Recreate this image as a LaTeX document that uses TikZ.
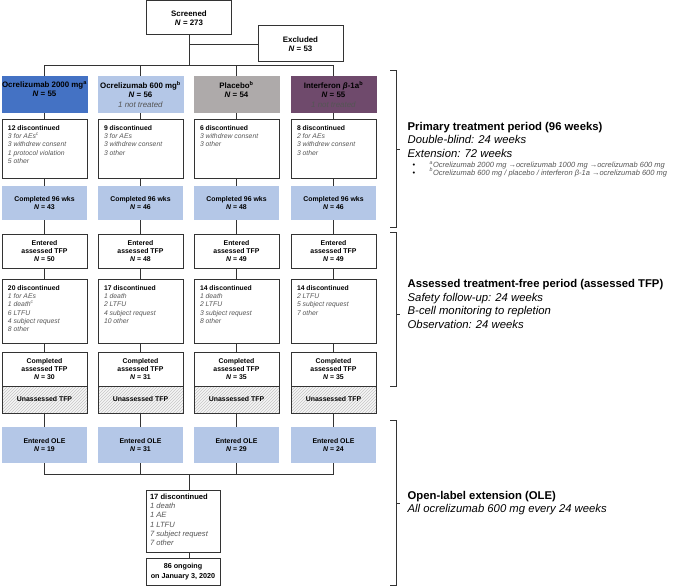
\documentclass[tikz,border=0pt]{standalone}
\usepackage{fontspec}
\setmainfont{Liberation Sans}
\usetikzlibrary{patterns}

\definecolor{armblue}{HTML}{4472C4}
\definecolor{paleblue}{HTML}{B4C7E7}
\definecolor{armgray}{HTML}{AEAAAA}
\definecolor{armpurple}{HTML}{6F4A6C}
\definecolor{linegray}{HTML}{333333}
\definecolor{notegray}{HTML}{555555}

\newcommand{\nn}{\textit{N}}
\newcommand{\itnote}[1]{{\color{notegray}\textit{#1}}}
\newcommand{\boxfont}{\fontsize{6.9}{7.6}\selectfont}
\newcommand{\listfont}{\fontsize{6.8}{8.2}\selectfont}
\newcommand{\bulletfont}{\fontsize{7.5}{7.8}\selectfont\lineskiplimit=-5pt\relax}
\newcommand{\toptext}[2]{\parbox[c][#1][t]{73pt}{\raggedright #2}}
\newcommand{\armtext}[1]{\parbox[c][26pt][t]{86pt}{\centering\fontsize{7.9}{9.5}\selectfont #1}}

\begin{document}
\begin{tikzpicture}[x=1pt, y=-1pt,
    whitebox/.style={draw=linegray, line width=1pt, fill=white, minimum width=85, minimum height=34, inner sep=0pt, align=center, font=\boxfont},
    bluebox/.style={fill=paleblue, minimum width=85, minimum height=34, inner sep=0pt, align=center, font=\boxfont},
    armbox/.style={minimum width=86, minimum height=37, inner sep=0pt},
    listbox/.style={whitebox, inner xsep=6pt, inner ysep=6.5pt, font=\listfont},
    hatchbox/.style={whitebox, minimum height=27, preaction={fill=gray!8}, pattern=north east lines, pattern color=gray!45},
    link/.style={draw=linegray, line width=0.9pt},
    period/.style={anchor=base west, align=left, inner sep=0pt, font=\fontsize{11.3}{13.4}\selectfont}]
    \useasboundingbox (0,0) rectangle (675,586);

    % screening
    \node at (189, 18) [whitebox, font=\fontsize{7.9}{9.6}\selectfont] (screen) {\textbf{Screened}\\ \textbf{\nn{} = 273}};
    \node at (300.5, 44) [whitebox, minimum height=36, font=\fontsize{7.9}{9.6}\selectfont] (excl) {\textbf{Excluded}\\ \textbf{\nn{} = 53}};
    \coordinate (split) at (189, 65);
    \coordinate (merge) at (189, 474);

    % treatment arms
    \node at (44.5, 94.5) [armbox, fill=armblue] (arm1) {\armtext{\textbf{Ocrelizumab 2000 mg\textsuperscript{a}}\\ \textbf{\nn{} = 55}}};
    \node at (140.5, 94.5) [armbox, fill=paleblue] (arm2) {\armtext{\textbf{Ocrelizumab 600 mg\textsuperscript{b}}\\ \textbf{\nn{} = 56}\\ \itnote{1 not treated}}};
    \node at (236.5, 94.5) [armbox, fill=armgray] (arm3) {\armtext{\textbf{Placebo\textsuperscript{b}}\\ \textbf{\nn{} = 54}}};
    \node at (333.5, 94.5) [armbox, fill=armpurple] (arm4) {\armtext{\textbf{Interferon \textit{β}-1a\textsuperscript{b}}\\ \textbf{\nn{} = 55}\\ \itnote{1 not treated}}};

    % primary treatment period
    \node at (44.5, 148.5) [listbox, minimum height=59] (disc1) {\toptext{46pt}{\textbf{12 discontinued}\\ \itnote{3 for AEs\textsuperscript{c}}\\ \itnote{3 withdrew consent}\\ \itnote{1 protocol violation}\\ \itnote{5 other}}};
    \node at (140.5, 148.5) [listbox, minimum height=59] (disc2) {\toptext{46pt}{\textbf{9 discontinued}\\ \itnote{3 for AEs}\\ \itnote{3 withdrew consent}\\ \itnote{3 other}}};
    \node at (236.5, 148.5) [listbox, minimum height=59] (disc3) {\toptext{46pt}{\textbf{6 discontinued}\\ \itnote{3 withdrew consent}\\ \itnote{3 other}}};
    \node at (333.5, 148.5) [listbox, minimum height=59] (disc4) {\toptext{46pt}{\textbf{8 discontinued}\\ \itnote{2 for AEs}\\ \itnote{3 withdrew consent}\\ \itnote{3 other}}};

    \node at (44.5, 203) [bluebox] (comp1) {\textbf{Completed 96 wks}\\ \textbf{\nn{} = 43}};
    \node at (140.5, 203) [bluebox] (comp2) {\textbf{Completed 96 wks}\\ \textbf{\nn{} = 46}};
    \node at (236.5, 203) [bluebox] (comp3) {\textbf{Completed 96 wks}\\ \textbf{\nn{} = 48}};
    \node at (333.5, 203) [bluebox] (comp4) {\textbf{Completed 96 wks}\\ \textbf{\nn{} = 46}};

    % assessed treatment-free period
    \node at (44.5, 251) [whitebox] (tfp1) {\textbf{Entered}\\ \textbf{assessed TFP}\\ \textbf{\nn{} = 50}};
    \node at (140.5, 251) [whitebox] (tfp2) {\textbf{Entered}\\ \textbf{assessed TFP}\\ \textbf{\nn{} = 48}};
    \node at (236.5, 251) [whitebox] (tfp3) {\textbf{Entered}\\ \textbf{assessed TFP}\\ \textbf{\nn{} = 49}};
    \node at (333.5, 251) [whitebox] (tfp4) {\textbf{Entered}\\ \textbf{assessed TFP}\\ \textbf{\nn{} = 49}};

    \node at (44.5, 311) [listbox, minimum height=64] (tdisc1) {\toptext{51pt}{\textbf{20 discontinued}\\ \itnote{1 for AEs}\\ \itnote{1 death\textsuperscript{c}}\\ \itnote{6 LTFU}\\ \itnote{4 subject request}\\ \itnote{8 other}}};
    \node at (140.5, 311) [listbox, minimum height=64] (tdisc2) {\toptext{51pt}{\textbf{17 discontinued}\\ \itnote{1 death}\\ \itnote{2 LTFU}\\ \itnote{4 subject request}\\ \itnote{10 other}}};
    \node at (236.5, 311) [listbox, minimum height=64] (tdisc3) {\toptext{51pt}{\textbf{14 discontinued}\\ \itnote{1 death}\\ \itnote{2 LTFU}\\ \itnote{3 subject request}\\ \itnote{8 other}}};
    \node at (333.5, 311) [listbox, minimum height=64] (tdisc4) {\toptext{51pt}{\textbf{14 discontinued}\\ \itnote{2 LTFU}\\ \itnote{5 subject request}\\ \itnote{7 other}}};

    \node at (44.5, 369) [whitebox] (tcomp1) {\textbf{Completed}\\ \textbf{assessed TFP}\\ \textbf{\nn{} = 30}};
    \node at (140.5, 369) [whitebox] (tcomp2) {\textbf{Completed}\\ \textbf{assessed TFP}\\ \textbf{\nn{} = 31}};
    \node at (236.5, 369) [whitebox] (tcomp3) {\textbf{Completed}\\ \textbf{assessed TFP}\\ \textbf{\nn{} = 35}};
    \node at (333.5, 369) [whitebox] (tcomp4) {\textbf{Completed}\\ \textbf{assessed TFP}\\ \textbf{\nn{} = 35}};

    \node at (44.5, 399.5) [hatchbox] (unas1) {\textbf{Unassessed TFP}};
    \node at (140.5, 399.5) [hatchbox] (unas2) {\textbf{Unassessed TFP}};
    \node at (236.5, 399.5) [hatchbox] (unas3) {\textbf{Unassessed TFP}};
    \node at (333.5, 399.5) [hatchbox] (unas4) {\textbf{Unassessed TFP}};

    % open-label extension
    \node at (44.5, 445) [bluebox, minimum height=36] (ole1) {\textbf{Entered OLE}\\ \textbf{\nn{} = 19}};
    \node at (140.5, 445) [bluebox, minimum height=36] (ole2) {\textbf{Entered OLE}\\ \textbf{\nn{} = 31}};
    \node at (236.5, 445) [bluebox, minimum height=36] (ole3) {\textbf{Entered OLE}\\ \textbf{\nn{} = 29}};
    \node at (333.5, 445) [bluebox, minimum height=36] (ole4) {\textbf{Entered OLE}\\ \textbf{\nn{} = 24}};

    \node at (183, 521) [listbox, minimum width=74, minimum height=62, inner xsep=4pt, inner ysep=4pt, font=\fontsize{7.6}{9.2}\selectfont] (odisc) {\parbox[c][54pt][t]{66pt}{\raggedright\textbf{17 discontinued}\\ \itnote{1 death}\\ \itnote{1 AE}\\ \itnote{1 LTFU}\\ \itnote{7 subject request}\\ \itnote{7 other}}};
    \node at (183, 571.5) [whitebox, minimum width=74, minimum height=27, font=\fontsize{7.2}{9.6}\selectfont] (ongo) {\textbf{86 ongoing}\\ \textbf{on January 3, 2020}};

    % connectors
    \draw[link] (screen.south) -- (split);
    \draw[link] (screen.south |- excl.west) -- (excl.west);
    \draw[link] (arm1.north) -- (arm1.north |- split) -- (arm4.north |- split) -- (arm4.north);
    \draw[link] (arm2.north) -- (arm2.north |- split);
    \draw[link] (arm3.north) -- (arm3.north |- split);

    \draw[link] (arm1) -- (disc1) (disc1) -- (comp1) (comp1) -- (tfp1) (tfp1) -- (tdisc1) (tdisc1) -- (tcomp1) (unas1) -- (ole1);
    \draw[link] (arm2) -- (disc2) (disc2) -- (comp2) (comp2) -- (tfp2) (tfp2) -- (tdisc2) (tdisc2) -- (tcomp2) (unas2) -- (ole2);
    \draw[link] (arm3) -- (disc3) (disc3) -- (comp3) (comp3) -- (tfp3) (tfp3) -- (tdisc3) (tdisc3) -- (tcomp3) (unas3) -- (ole3);
    \draw[link] (arm4) -- (disc4) (disc4) -- (comp4) (comp4) -- (tfp4) (tfp4) -- (tdisc4) (tdisc4) -- (tcomp4) (unas4) -- (ole4);

    \draw[link] (ole1.south) -- (ole1.south |- merge) -- (ole4.south |- merge) -- (ole4.south);
    \draw[link] (ole2.south) -- (ole2.south |- merge);
    \draw[link] (ole3.south) -- (ole3.south |- merge);
    \draw[link] (merge) -- (merge |- odisc.north);
    \draw[link] (merge |- odisc.south) -- (merge |- ongo.north);

    % study periods
    \draw[link] (390,70) -- (396,70) -- (396,227) -- (390,227) (396,149) -- (400,149);
    \draw[link] (390,232) -- (396,232) -- (396,386) -- (390,386) (396,314) -- (400,314);
    \draw[link] (390,420) -- (396,420) -- (396,585) -- (390,585) (396,503) -- (400,503);

    \node at (407.5, 157) [period] (prim) {\textbf{Primary treatment period (96 weeks)}\\ \textit{Double-blind: 24 weeks}\\ \textit{Extension: 72 weeks}};
    \node at (407.5, 175) [period, font=\bulletfont] (primnote) {\makebox[22pt][l]{\hspace{5pt}•}\itnote{\textsuperscript{a}Ocrelizumab 2000 mg →ocrelizumab 1000 mg →ocrelizumab 600 mg}\\ \makebox[22pt][l]{\hspace{5pt}•}\itnote{\textsuperscript{b}Ocrelizumab 600 mg / placebo / interferon \textit{β}-1a →ocrelizumab 600 mg}};
    \node at (407.5, 328) [period] (tfp) {\textbf{Assessed treatment-free period (assessed TFP)}\\ \textit{Safety follow-up: 24 weeks}\\ \textit{B-cell monitoring to repletion}\\ \textit{Observation: 24 weeks}};
    \node at (407.5, 512.5) [period] (ole) {\textbf{Open-label extension (OLE)}\\ \textit{All ocrelizumab 600 mg every 24 weeks}};

\end{tikzpicture}
\end{document}
